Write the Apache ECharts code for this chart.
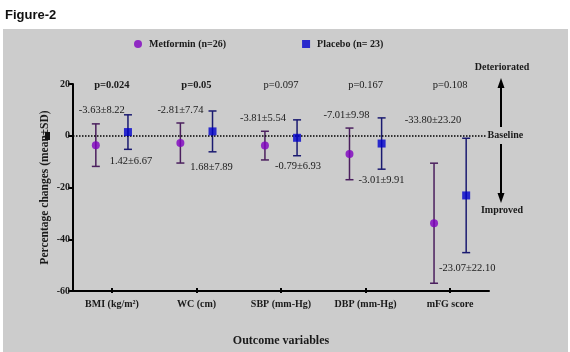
<!DOCTYPE html>
<html lang="en">
<head>
<meta charset="UTF-8">
<title>Figure-2</title>
<script src="https://cdn.jsdelivr.net/npm/echarts@6/dist/echarts.min.js"></script>
</head>
<body style="margin:0;background:#fff">
<div id="main" style="width:570px;height:352px;"></div>
<script>
// data
var categories = ['BMI (kg/m²)', 'WC (cm)', 'SBP (mm-Hg)', 'DBP (mm-Hg)', 'mFG score'];
var metMean = [-3.63, -2.81, -3.81, -7.01, -33.80];
var metSD = [8.22, 7.74, 5.54, 9.98, 23.20];
var plaMean = [1.42, 1.68, -0.79, -3.01, -23.07];
var plaSD = [6.67, 7.89, 6.93, 9.91, 22.10];
var pValues = ['p=0.024', 'p=0.05', 'p=0.097', 'p=0.167', 'p=0.108'];
var pBold = [true, true, false, false, false];
var yTicks = [-60, -40, -20, 0, 20];

// label placement (pixels)
var metLabelLift = [14, 13, 13.5, 13, 42.5];
var metLabelDx = [6, 0, -2, -3, -1];
var plaLabelDrop = [12, 15, 11, 11.5, 16];
var plaLabelDx = [3, -1, 1, 0, 1];
var shift = 0.19; // group offset around each category

var serif = 'Liberation Serif';
var ink = '#1a1a1a';

function fmt(m, s) {
    return m.toFixed(2) + '±' + s.toFixed(2);
}

function barData(means, sds, dir) {
    return means.map(function (m, i) {
        return [i + 1 + dir * shift, m - sds[i], m + sds[i], m, sds[i]];
    });
}

function errorBars(name, means, sds, dir, color, above, off, dx) {
    return {
        type: 'custom',
        name: name + ' SD',
        z: 3,
        data: barData(means, sds, dir),
        renderItem: function (params, api) {
            var i = params.dataIndex;
            var lo = api.coord([api.value(0), api.value(1)]);
            var hi = api.coord([api.value(0), api.value(2)]);
            var x = lo[0];
            var st = { stroke: color, lineWidth: 1.5 };
            var ty = above ? hi[1] - off[i] : lo[1] + off[i];
            return {
                type: 'group',
                children: [
                    { type: 'line', shape: { x1: x, y1: lo[1], x2: x, y2: hi[1] }, style: st },
                    { type: 'line', shape: { x1: x - 4, y1: lo[1], x2: x + 4, y2: lo[1] }, style: st },
                    { type: 'line', shape: { x1: x - 4, y1: hi[1], x2: x + 4, y2: hi[1] }, style: st },
                    {
                        type: 'text', x: x + dx[i], y: ty,
                        style: {
                            text: fmt(api.value(3), api.value(4)),
                            fill: ink, font: '10.5px "' + serif + '"',
                            align: 'center', verticalAlign: 'middle'
                        }
                    }
                ]
            };
        }
    };
}

var chart = echarts.init(document.getElementById('main'));

var option = {
    animation: false,
    backgroundColor: '#ffffff',
    title: {
        text: 'Figure-2',
        left: 0, top: 4,
        textStyle: { fontFamily: 'Liberation Sans', fontWeight: 'bold', fontSize: 13, color: '#111' }
    },
    legend: {
        left: 129, top: 34,
        itemWidth: 8, itemHeight: 8, itemGap: 76,
        data: [{ name: 'Metformin (n=26)', icon: 'circle' }, { name: 'Placebo (n= 23)', icon: 'rect' }],
        textStyle: { fontFamily: serif, fontWeight: 'bold', fontSize: 10, color: ink, padding: [0, 0, 0, 2] }
    },
    // grid 0 holds the marks; grid 1 only carries the category ticks and labels
    grid: [
        { left: 73, top: 84, width: 416, height: 207 },
        { left: 69.75, top: 84, width: 422.5, height: 207 }
    ],
    xAxis: [
        {
            type: 'value', gridIndex: 0,
            min: 0.54, max: 5.46,
            axisLine: { show: true, onZero: false, lineStyle: { color: '#000', width: 2 } },
            axisTick: { show: false },
            axisLabel: { show: false },
            splitLine: { show: false }
        },
        {
            type: 'category', gridIndex: 1,
            data: categories,
            name: 'Outcome variables',
            nameLocation: 'middle', nameGap: 47,
            nameTextStyle: { fontFamily: serif, fontWeight: 'bold', fontSize: 12, color: ink },
            axisLine: { show: false },
            axisTick: { show: true, alignWithLabel: true, length: 5, lineStyle: { color: '#000', width: 2 } },
            axisLabel: { margin: 11, interval: 0, fontFamily: serif, fontWeight: 'bold', fontSize: 10, color: ink },
            splitLine: { show: false }
        }
    ],
    yAxis: [
        {
            type: 'value', gridIndex: 0,
            min: yTicks[0], max: yTicks[yTicks.length - 1], interval: 20,
            name: 'Percentage changes (mean±SD)',
            nameLocation: 'middle', nameGap: 22, nameMoveOverlap: false,
            nameTextStyle: { fontFamily: serif, fontWeight: 'bold', fontSize: 11.5, color: ink },
            axisLine: { show: true, onZero: false, lineStyle: { color: '#000', width: 2 } },
            axisTick: { show: true, length: 5, lineStyle: { color: '#000', width: 2 } },
            axisLabel: { margin: 3, fontFamily: serif, fontWeight: 'bold', fontSize: 10, color: ink },
            splitLine: { show: false }
        },
        { type: 'value', gridIndex: 1, show: false }
    ],
    graphic: [
        { type: 'rect', z: -10, shape: { x: 3, y: 29, width: 565, height: 323 }, style: { fill: '#cccccc' } },
        // direction arrows on the right
        { type: 'line', shape: { x1: 501, y1: 86, x2: 501, y2: 127 }, style: { stroke: '#000', lineWidth: 2 } },
        { type: 'polygon', shape: { points: [[501, 78], [497.5, 88], [504.5, 88]] }, style: { fill: '#000' } },
        { type: 'line', shape: { x1: 501, y1: 144, x2: 501, y2: 195 }, style: { stroke: '#000', lineWidth: 2 } },
        { type: 'polygon', shape: { points: [[501, 203], [497.5, 193], [504.5, 193]] }, style: { fill: '#000' } },
        { type: 'text', x: 502, y: 67, style: { text: 'Deteriorated', font: 'bold 10px "' + serif + '"', fill: ink, align: 'center', verticalAlign: 'middle' } },
        { type: 'text', x: 502, y: 210, style: { text: 'Improved', font: 'bold 10px "' + serif + '"', fill: ink, align: 'center', verticalAlign: 'middle' } },
        { type: 'rect', z: 20, shape: { x: 45, y: 132, width: 5, height: 8 }, style: { fill: '#111' } }
    ],
    series: [
        errorBars('Metformin (n=26)', metMean, metSD, -1, '#4b1f5e', true, metLabelLift, metLabelDx),
        errorBars('Placebo (n= 23)', plaMean, plaSD, 1, '#1a1a70', false, plaLabelDrop, plaLabelDx),
        {
            type: 'scatter',
            name: 'Metformin (n=26)',
            z: 5,
            symbol: 'circle', symbolSize: 8,
            itemStyle: { color: '#8000c0' },
            data: metMean.map(function (m, i) { return [i + 1 - shift, m]; }),
            markLine: {
                silent: true, symbol: 'none',
                lineStyle: { color: '#000', type: 'dotted', width: 1.5 },
                label: {
                    show: true, position: 'end', distance: 2,
                    formatter: 'Baseline',
                    fontFamily: serif, fontWeight: 'bold', fontSize: 10, color: ink
                },
                data: [[{ coord: [0.54, 0] }, { coord: [5.42, 0] }]]
            }
        },
        {
            type: 'scatter',
            name: 'Placebo (n= 23)',
            z: 5,
            symbol: 'rect', symbolSize: 8,
            itemStyle: { color: '#0000cc' },
            data: plaMean.map(function (m, i) { return [i + 1 + shift, m]; })
        },
        {
            // p-values above each group
            type: 'custom',
            name: 'p',
            z: 3,
            data: pValues.map(function (p, i) { return [i + 1, yTicks[yTicks.length - 1]]; }),
            renderItem: function (params, api) {
                var i = params.dataIndex;
                var pt = api.coord([api.value(0), api.value(1)]);
                return {
                    type: 'text', x: pt[0], y: pt[1] + 1,
                    style: {
                        text: pValues[i], fill: ink,
                        font: (pBold[i] ? 'bold ' : '') + '10.5px "' + serif + '"',
                        align: 'center', verticalAlign: 'middle'
                    }
                };
            }
        }
    ]
};
chart.setOption(option);
</script>
</body>
</html>
